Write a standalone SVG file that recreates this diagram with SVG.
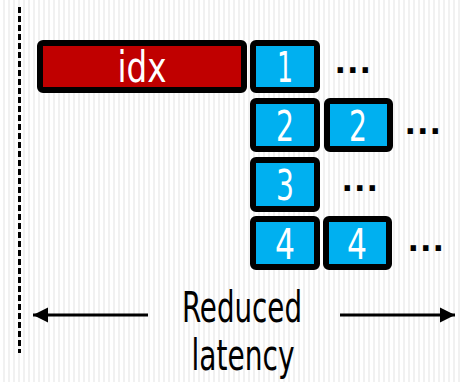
<svg xmlns="http://www.w3.org/2000/svg" width="461" height="382" viewBox="0 0 461 382">
  <defs>
    <pattern id="stripes" width="5" height="10" patternUnits="userSpaceOnUse">
      <rect width="5" height="10" fill="#ffffff"/>
      <rect x="3" width="2" height="10" fill="#f1f1f1"/>
    </pattern>
    <marker id="head" markerWidth="16" markerHeight="16" viewBox="0 0 16 16" refX="15" refY="8" orient="auto" markerUnits="userSpaceOnUse">
      <path d="M0,0.5 L15,8 L0,15.5 Z" fill="#000"/>
    </marker>
  </defs>
  <style>
    .box { stroke: #000; stroke-width: 6; }
    .red { fill: #c00000; }
    .blue { fill: #00b0f0; }
    .lbl { font-family: "Liberation Sans Narrow", "DejaVu Sans Condensed", "Liberation Sans", sans-serif; font-size: 43px; fill: #fff; text-anchor: middle; }
    .cap { font-family: "Liberation Sans Narrow", "DejaVu Sans Condensed", "Liberation Sans", sans-serif; font-size: 42px; fill: #000; text-anchor: middle; }
    .dots { font-family: "Liberation Sans", sans-serif; font-weight: bold; font-size: 38px; fill: #000; letter-spacing: 2px; }
    .conn { stroke: #000; stroke-width: 3; fill: none; }
  </style>

  <rect width="461" height="382" fill="url(#stripes)"/>

  <!-- time axis -->
  <line x1="19.5" y1="7" x2="19.5" y2="353" stroke="#000" stroke-width="3" stroke-dasharray="6 3"/>

  <g id="idx">
    <rect class="box red" x="40" y="43" width="204" height="47" rx="3"/>
    <text class="lbl" x="142" y="82" textLength="49" lengthAdjust="spacingAndGlyphs">idx</text>
  </g>

  <g id="r1a">
    <rect class="box blue" x="253" y="43" width="64" height="47" rx="3"/>
    <text class="lbl" x="285" y="82" textLength="16" lengthAdjust="spacingAndGlyphs">1</text>
  </g>
  <text class="dots" x="335" y="73">...</text>

  <g id="r2a">
    <rect class="box blue" x="253" y="101" width="64" height="48" rx="3"/>
    <text class="lbl" x="285" y="141" textLength="18" lengthAdjust="spacingAndGlyphs">2</text>
  </g>
  <g id="r2b">
    <rect class="box blue" x="327" y="101" width="63" height="48" rx="3"/>
    <text class="lbl" x="358" y="141" textLength="18" lengthAdjust="spacingAndGlyphs">2</text>
  </g>
  <text class="dots" x="405" y="134">...</text>

  <g id="r3a">
    <rect class="box blue" x="253" y="160" width="64" height="49" rx="3"/>
    <text class="lbl" x="285" y="200" textLength="18" lengthAdjust="spacingAndGlyphs">3</text>
  </g>
  <text class="dots" x="342" y="191">...</text>

  <g id="r4a">
    <rect class="box blue" x="253" y="219" width="64" height="48" rx="3"/>
    <text class="lbl" x="285" y="259" textLength="20" lengthAdjust="spacingAndGlyphs">4</text>
  </g>
  <g id="r4b">
    <rect class="box blue" x="326" y="219" width="63" height="48" rx="3"/>
    <text class="lbl" x="357" y="259" textLength="20" lengthAdjust="spacingAndGlyphs">4</text>
  </g>
  <text class="dots" x="408" y="251">...</text>

  <g id="connectors">
    <line class="conn" x1="148" y1="315" x2="33" y2="315" marker-end="url(#head)"/>
    <line class="conn" x1="340" y1="315" x2="455" y2="315" marker-end="url(#head)"/>
  </g>

  <g id="caption">
    <text class="cap" x="242" y="322" textLength="120" lengthAdjust="spacingAndGlyphs">Reduced</text>
    <text class="cap" x="243" y="370" textLength="103" lengthAdjust="spacingAndGlyphs">latency</text>
  </g>
</svg>
